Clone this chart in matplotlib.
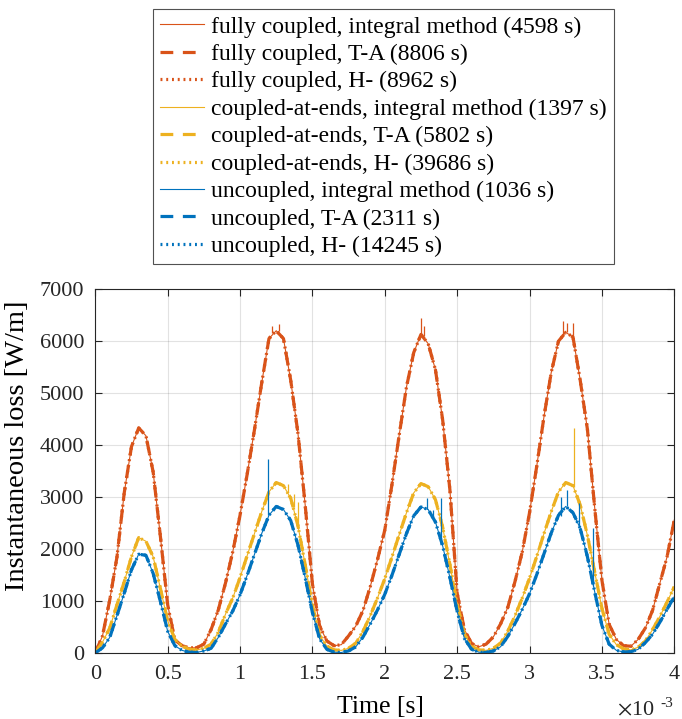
import numpy as np
import matplotlib
matplotlib.use('Agg')
import matplotlib.pyplot as plt

plt.rcParams['font.family'] = ['Liberation Serif', 'DejaVu Serif']
plt.rcParams['mathtext.fontset'] = 'stix'

# time samples in ms (0 to 4 ms, every 0.05 ms)
t = np.linspace(0, 4, 81)

# W/m
fully = [0, 330, 1020, 1850, 3080, 3970, 4330, 4180, 3480, 2240,
         930, 250, 140, 100, 100, 170, 450, 830, 1350, 1950,
         2650, 3450, 4300, 5200, 6050, 6200, 6050, 5250, 4230, 2850,
         1330, 520, 230, 140, 160, 330, 520, 820, 1280, 1800,
         2365, 3250, 4200, 5120, 5780, 6130, 5950, 5450, 4480, 3135,
         1150, 450, 180, 120, 170, 310, 560, 880, 1380, 1950,
         2700, 3600, 4550, 5400, 6000, 6170, 6080, 5250, 4300, 2800,
         1400, 550, 260, 140, 130, 260, 480, 820, 1340, 1850,
         2560]
ends = [0, 210, 480, 930, 1370, 1850, 2220, 2150, 1850, 1240,
        620, 260, 130, 70, 60, 90, 170, 400, 750, 1060,
        1450, 1880, 2300, 2720, 3100, 3280, 3220, 2980, 2450, 1700,
        920, 340, 130, 60, 50, 90, 190, 420, 720, 1060,
        1430, 1850, 2280, 2700, 3080, 3260, 3200, 2950, 2420, 1700,
        930, 360, 130, 60, 50, 90, 190, 420, 720, 1060,
        1440, 1860, 2300, 2720, 3100, 3280, 3220, 2850, 2260, 1560,
        860, 360, 160, 80, 60, 110, 230, 450, 700, 980,
        1275]
uncoupled = [0, 100, 300, 720, 1150, 1600, 1900, 1880, 1530, 990,
             420, 140, 50, 15, 10, 40, 90, 300, 560, 810,
             1120, 1500, 1900, 2300, 2650, 2820, 2760, 2550, 2080, 1450,
             780, 270, 70, 15, 10, 40, 120, 310, 560, 830,
             1130, 1500, 1900, 2300, 2640, 2810, 2760, 2520, 2060, 1450,
             800, 280, 70, 15, 10, 40, 120, 320, 570, 840,
             1140, 1510, 1910, 2310, 2650, 2820, 2700, 2400, 1850, 1180,
             530, 170, 50, 20, 25, 70, 200, 360, 590, 840,
             1083]

# numerical spikes in the integral method curves: time, foot, top
fully_spk_t = [1.22, 1.27, 2.25, 2.27, 3.23, 3.26, 3.30]
fully_spk_lo = [6150, 6200, 6130, 6100, 6100, 6170, 6080]
fully_spk_hi = [6300, 6330, 6440, 6300, 6390, 6350, 6340]
ends_spk_t = [1.33, 1.37, 1.40, 3.31]
ends_spk_lo = [3100, 2800, 2450, 3200]
ends_spk_hi = [3250, 3050, 2900, 4330]
unc_spk_t = [1.19, 2.29, 2.33, 2.39, 3.22, 3.26, 3.34, 3.44]
unc_spk_lo = [2650, 2780, 2600, 2100, 2640, 2820, 2450, 1280]
unc_spk_hi = [3740, 2990, 2750, 2990, 3000, 3130, 2880, 2400]

labels = ['fully coupled, integral method (4598 s)',
          'fully coupled, T-A (8806 s)',
          'fully coupled, H- (8962 s)',
          'coupled-at-ends, integral method (1397 s)',
          'coupled-at-ends, T-A (5802 s)',
          'coupled-at-ends, H- (39686 s)',
          'uncoupled, integral method (1036 s)',
          'uncoupled, T-A (2311 s)',
          'uncoupled, H- (14245 s)']

xticks = [0, 0.5, 1, 1.5, 2, 2.5, 3, 3.5, 4]
xtick_labels = ['0', '0.5', '1', '1.5', '2', '2.5', '3', '3.5', '4']
yticks = [0, 1000, 2000, 3000, 4000, 5000, 6000, 7000]

c_fully = '#D95319'
c_ends = '#EDB120'
c_unc = '#0072BD'

fig = plt.figure(figsize=(6.82, 7.19), dpi=100)
ax = fig.add_axes([0.1397, 0.0918, 0.849, 0.506])

handles = []
for vals, col, st, lo, hi in [(fully, c_fully, fully_spk_t, fully_spk_lo, fully_spk_hi),
                              (ends, c_ends, ends_spk_t, ends_spk_lo, ends_spk_hi),
                              (uncoupled, c_unc, unc_spk_t, unc_spk_lo, unc_spk_hi)]:
    h1, = ax.plot(t, vals, '-', color=col, lw=0.8)
    ax.vlines(st, lo, hi, color=col, lw=0.9)
    h2, = ax.plot(t, vals, color=col, lw=2.3, linestyle=(0, (4, 3)))
    h3, = ax.plot(t, vals, color=col, lw=2.3, linestyle=(0, (0.6, 1.2)))
    handles += [h1, h2, h3]

ax.set_xlim(0, 4)
ax.set_ylim(0, 7000)
ax.set_xticks(xticks)
ax.set_xticklabels(xtick_labels)
ax.set_yticks(yticks)
ax.tick_params(direction='in', length=5, labelsize=16, colors='#262626',
               top=True, right=True)
ax.tick_params(axis='x', pad=9)
ax.tick_params(axis='y', pad=8)
for sp in ax.spines.values():
    sp.set_color('#262626')
    sp.set_linewidth(0.8)
ax.grid(True, color='#262626', alpha=0.13, lw=0.8)
ax.set_xlabel('Time [s]', fontsize=18.5)
ax.set_ylabel('Instantaneous loss [W/m]', fontsize=20.5)
ax.xaxis.set_label_coords(0.492, -0.118)
ax.yaxis.set_label_coords(-0.113, 0.571)

# MATLAB style exponent under the x axis
fig.text(0.905, 0.005, r'$\times$10', fontsize=16, color='#262626', va='baseline')
fig.text(0.969, 0.017, '-3', fontsize=11, color='#262626', va='baseline')

leg = fig.legend(handles, labels, loc='upper left',
                 bbox_to_anchor=(153 / 682, 1 - 9 / 719), fontsize=17,
                 frameon=True, fancybox=False, edgecolor='#262626',
                 handlelength=1.85, handletextpad=0.3, labelspacing=0.25,
                 borderpad=0.3, borderaxespad=0)
leg.get_frame().set_linewidth(0.8)

fig.savefig('out.png', dpi=100)
